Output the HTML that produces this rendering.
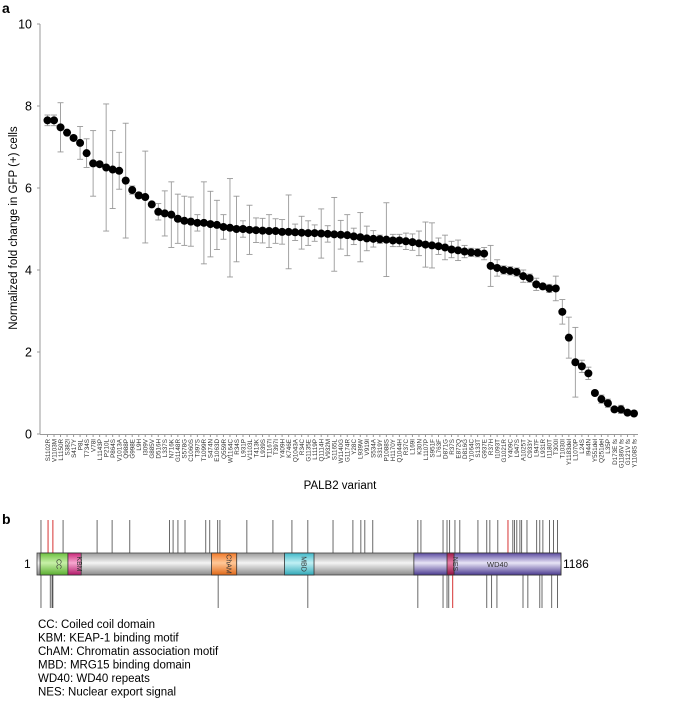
<!DOCTYPE html>
<html><head><meta charset="utf-8"><style>
body{margin:0;background:#fff;width:677px;height:698px;overflow:hidden;font-family:"Liberation Sans",sans-serif}
</style></head><body>
<svg id="s" width="677" height="698" xmlns="http://www.w3.org/2000/svg" font-family="Liberation Sans, sans-serif">
<defs>
<linearGradient id="gg" x1="0" y1="0" x2="0" y2="1"><stop offset="0" stop-color="#9a9a9a"/><stop offset="0.45" stop-color="#f4f4f4"/><stop offset="1" stop-color="#8a8a8a"/></linearGradient>
<linearGradient id="gp" x1="0" y1="0" x2="0" y2="1"><stop offset="0" stop-color="#5a4aa0"/><stop offset="0.45" stop-color="#e8e4f6"/><stop offset="1" stop-color="#4a3a90"/></linearGradient>
<linearGradient id="gc" x1="0" y1="0" x2="0" y2="1"><stop offset="0" stop-color="#6cc040"/><stop offset="0.45" stop-color="#c8f0a8"/><stop offset="1" stop-color="#5aae30"/></linearGradient>
<linearGradient id="gk" x1="0" y1="0" x2="0" y2="1"><stop offset="0" stop-color="#c82878"/><stop offset="0.45" stop-color="#f8a8d0"/><stop offset="1" stop-color="#b01868"/></linearGradient>
<linearGradient id="go" x1="0" y1="0" x2="0" y2="1"><stop offset="0" stop-color="#f07828"/><stop offset="0.45" stop-color="#ffc898"/><stop offset="1" stop-color="#e06818"/></linearGradient>
<linearGradient id="gm" x1="0" y1="0" x2="0" y2="1"><stop offset="0" stop-color="#40b8c8"/><stop offset="0.45" stop-color="#c0f0f4"/><stop offset="1" stop-color="#30a8b8"/></linearGradient>
<linearGradient id="gn" x1="0" y1="0" x2="0" y2="1"><stop offset="0" stop-color="#a01848"/><stop offset="0.45" stop-color="#e880a8"/><stop offset="1" stop-color="#901040"/></linearGradient>
</defs>
<text x="2" y="13" font-size="14" font-weight="bold">a</text>
<text x="2" y="524" font-size="14" font-weight="bold">b</text>
<text x="340" y="489" font-size="11.5" text-anchor="middle">PALB2 variant</text>
<text transform="translate(17,228) rotate(-90)" font-size="11.5" text-anchor="middle">Normalized fold change in GFP (+) cells</text>
<g id="chart"></g>
<g id="prot"></g>
<g font-size="11.5">
<text x="38" y="628">CC: Coiled coil domain</text>
<text x="38" y="641.5">KBM: KEAP-1 binding motif</text>
<text x="38" y="655">ChAM: Chromatin association motif</text>
<text x="38" y="668.5">MBD: MRG15 binding domain</text>
<text x="38" y="682">WD40: WD40 repeats</text>
<text x="38" y="695.5">NES: Nuclear export signal</text>
</g>
</svg>
<script>
const labels=["S1102R","V1103M","L1150R","S382I","S417Y","P8L","T734S","V78I","L1143P","P210L","P864S","V1013A","Q988P","G998E","L9H","I309V","G885V","D516H","L337S","N716K","G1148R","S578G","C1060S","T397S","T1099R","S474N","E1063D","Q559R","W1164C","R34S","L931P","V1103L","T413K","L939S","T1167I","T397I","Y409H","K746E","Q1043A","R34C","G1135E","L1119P","Q1114H","V932M","S1165L","W1140G","G1174R","Y28C","L939W","V919I","S534A","S319Y","P1088S","H1170Y","Q1044H","R37C","L169I","K30N","L1107P","S951F","L763F","D871G","R37S","E872Q","D816G","Y1064C","S133T","G937E","R37H","I1093T","G1021R","Y409C","L947S","A1025T","C933Y","L947F","L931R","I1180T","T300I","T1030I","Y1183del","L1070P","L24S","I944N","Y551del","Q251del","L35P","D173E fs","G1186V fs","G121V fs","Y1108S fs"];
const values=[7.65,7.65,7.48,7.35,7.22,7.1,6.85,6.6,6.58,6.5,6.45,6.42,6.18,5.95,5.82,5.78,5.6,5.42,5.38,5.35,5.25,5.2,5.18,5.15,5.15,5.12,5.1,5.05,5.03,5.0,5.0,4.98,4.97,4.96,4.95,4.95,4.93,4.93,4.92,4.91,4.9,4.9,4.89,4.88,4.87,4.86,4.85,4.82,4.8,4.77,4.76,4.75,4.74,4.72,4.72,4.7,4.68,4.65,4.62,4.6,4.58,4.55,4.5,4.48,4.45,4.43,4.42,4.4,4.1,4.05,4.0,3.98,3.95,3.85,3.8,3.65,3.6,3.55,3.55,2.98,2.35,1.75,1.65,1.48,1.0,0.85,0.75,0.6,0.6,0.52,0.5];
const errors=[0.13,0.13,0.6,0.05,0.05,0.4,0.35,0.8,0.05,1.55,0.95,0.45,1.4,0.1,0.07,1.12,0.05,0.2,0.55,0.8,0.6,0.6,0.6,0.2,1.0,0.8,0.6,0.3,1.2,0.8,0.2,0.6,0.3,0.3,0.4,0.3,0.3,0.9,0.2,0.4,0.3,0.2,0.6,0.2,0.9,0.35,0.5,0.2,0.6,0.3,0.2,0.1,0.9,0.15,0.15,0.2,0.2,0.3,0.55,0.55,0.2,0.3,0.2,0.25,0.15,0.1,0.1,0.15,0.5,0.2,0.1,0.1,0.1,0.15,0.1,0.15,0.05,0.1,0.3,0.3,0.5,0.85,0.15,0.15,0.05,0.1,0.1,0.05,0.1,0.05,0.05];
const yTicks=[0,2,4,6,8,10];
const upperSites=[9,25,36,59,136,170,210,300,308,319,335,382,391,409,414,475,534,577,613,670,715,733,742,760,862,869,919,928,934,946,957,998,1018,1025,1043,1066,1077,1081,1086,1093,1097,1109,1131,1138,1145,1160,1169,1178];
const upperRed=[25,36,1066];
const lowerSites=[9,30,34,36,410,613,862,919,928,932,941,1018,1029,1041,1100,1111,1138,1143,1165,1178];
const lowerRed=[941];
const domains=[["CC",7,70,"gc"],["KBM",70,100,"gk"],["ChAM",395,452,"go"],["MBD",560,627,"gm"],["WD40",853,1186,"gp"],["NES",928,944,"gn"]];
const NS="http://www.w3.org/2000/svg";
function mk(t,a,p){const e=document.createElementNS(NS,t);for(const k in a)e.setAttribute(k,a[k]);p.appendChild(e);return e;}
const ch=document.getElementById('chart');
const X=i=>47.5+i*(634-47.5)/(labels.length-1);
const Y=v=>434-v*41;
let ax=mk('line',{x1:40,y1:Y(10),x2:40,y2:434,stroke:'#999','stroke-width':1},ch);


let bx=mk('line',{x1:40,y1:434.5,x2:638,y2:434.5,stroke:'#999','stroke-width':1},ch);


yTicks.forEach(t=>{mk('line',{x1:37,x2:40,y1:Y(t),y2:Y(t),stroke:'#999'},ch);
 const tx=mk('text',{x:32,y:Y(t)+4.5,'font-size':12.5,'text-anchor':'end'},ch);tx.textContent=t;
 
 });
labels.forEach((l,i)=>{const x=X(i);
 mk('line',{x1:x,x2:x,y1:434.5,y2:437,stroke:'#999'},ch);
 const tx=mk('text',{transform:`translate(${x+2.3},439) rotate(-90)`,'font-size':6.3,'text-anchor':'end',fill:'#333'},ch);tx.textContent=l;
 
 
 const v=values[i],e=errors[i];
 const g=mk('g',{stroke:'#999','stroke-width':0.9},ch);
 
 
 mk('line',{x1:x,x2:x,y1:Y(v+e),y2:Y(v-e)},g);
 mk('line',{x1:x-3,x2:x+3,y1:Y(v+e),y2:Y(v+e)},g);
 mk('line',{x1:x-3,x2:x+3,y1:Y(v-e),y2:Y(v-e)},g);
 const c=mk('circle',{cx:x,cy:Y(v),r:4,fill:'#000'},ch);
 
 });
const pr=document.getElementById('prot');
const PX=a=>37+a*(561-37)/1186;
const barTop=553,barBot=575;
upperSites.forEach(s=>{const ln=mk('line',{x1:PX(s),x2:PX(s),y1:520,y2:barTop,stroke:upperRed.includes(s)?'#c00':'#444','stroke-width':0.8},pr);
 
 });
lowerSites.forEach(s=>{const ln=mk('line',{x1:PX(s),x2:PX(s),y1:barBot,y2:608,stroke:lowerRed.includes(s)?'#c00':'#444','stroke-width':0.8},pr);
 
 });
const bar=mk('rect',{x:37,y:barTop,width:524,height:barBot-barTop,fill:'url(#gg)',stroke:'#444','stroke-width':0.8},pr);


domains.forEach(d=>{const x1=PX(d[1]),x2=PX(d[2]);
 const r=mk('rect',{x:x1,y:barTop,width:x2-x1,height:barBot-barTop,fill:`url(#${d[3]})`,stroke:'#333','stroke-width':0.8},pr);
 
 
 const cx=(x1+x2)/2;
 const t=d[0]==="WD40"?mk('text',{x:cx+10,y:barTop+14,'font-size':7.5,'text-anchor':'middle',fill:'#333'},pr):mk('text',{transform:`translate(${cx+2.5},${barTop+11}) rotate(90)`,'font-size':7,'text-anchor':'middle',fill:'#333'},pr);
 t.textContent=d[0];
 
 });
[["1",24,"start"],["1186",563,"start"]].forEach(a=>{const t=mk('text',{x:a[1],y:568,'font-size':12},pr);t.textContent=a[0];
 
 });
</script>
</body></html>
